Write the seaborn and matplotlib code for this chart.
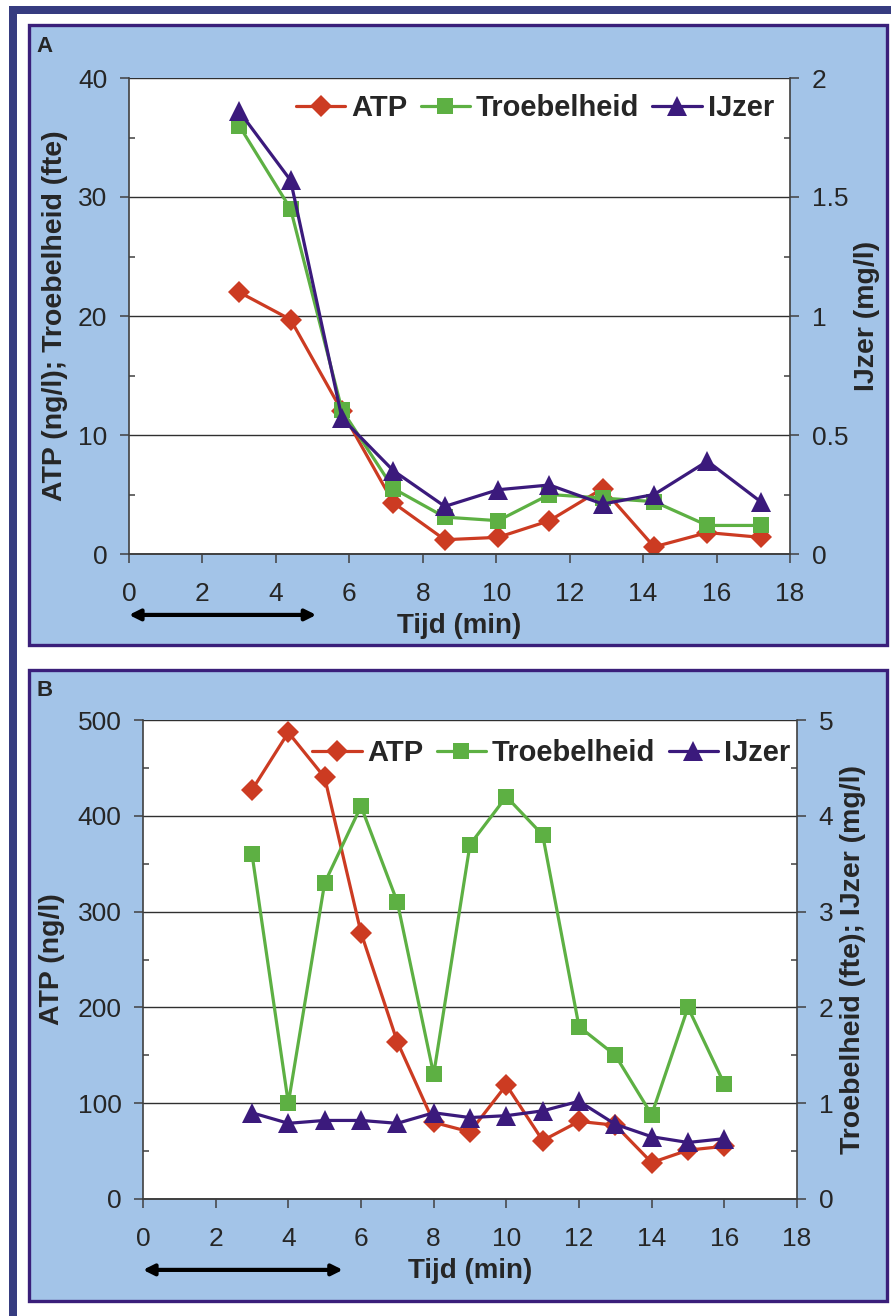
import matplotlib
matplotlib.use("Agg")
import matplotlib.pyplot as plt
from matplotlib.patches import Rectangle
from matplotlib.ticker import MultipleLocator, FormatStrFormatter
import seaborn as sns

# ---------------- data panel A ----------------
tijd_a = [3.0, 4.4, 5.8, 7.2, 8.6, 10.05, 11.45, 12.9, 14.3, 15.75, 17.2]
atp_a = [22.0, 19.7, 12.0, 4.3, 1.2, 1.4, 2.8, 5.5, 0.6, 1.8, 1.4]
troeb_a = [36.0, 29.0, 12.1, 5.5, 3.1, 2.8, 5.0, 4.7, 4.4, 2.4, 2.4]
ijzer_a = [1.86, 1.57, 0.57, 0.35, 0.20, 0.27, 0.29, 0.21, 0.25, 0.39, 0.22]

# ---------------- data panel B ----------------
tijd_b = [3, 4, 5, 6, 7, 8, 9, 10, 11, 12, 13, 14, 15, 16]
atp_b = [427, 487, 440, 278, 164, 80, 70, 119, 61, 81, 77, 38, 51, 55]
troeb_b = [3.6, 1.0, 3.3, 4.1, 3.1, 1.3, 3.7, 4.2, 3.8, 1.8, 1.5, 0.88, 2.0, 1.2]
ijzer_b = [0.90, 0.79, 0.82, 0.82, 0.79, 0.90, 0.85, 0.87, 0.92, 1.02, 0.78, 0.65, 0.59, 0.63]

series_names = ["ATP", "Troebelheid", "IJzer"]
x_ticks = list(range(0, 19, 2))

# colours (Excel-ish)
c_atp = "#cc3b22"
c_troeb = "#5db043"
c_ijzer = "#3b1a7c"
c_back = "#a3c4e8"
c_frame = "#3a1f7a"
c_navy = "#363c80"
c_axis = "#404040"

sns.set_style("ticks")
plt.rcParams['font.family'] = ['Liberation Sans', 'DejaVu Sans']

W, H = 891, 1316
fig = plt.figure(figsize=(W / 100, H / 100), dpi=100)


def px_box(x0, y0, x1, y1):
    # pixel box (top-left origin) -> figure fraction [l, b, w, h]
    return [x0 / W, 1 - y1 / H, (x1 - x0) / W, (y1 - y0) / H]


# outer navy frame + panel backgrounds
for box, kw in [
    (px_box(9, 6, 891, 14), dict(facecolor=c_navy, edgecolor="none")),
    (px_box(9, 6, 17, 1316), dict(facecolor=c_navy, edgecolor="none")),
    (px_box(29, 25, 887, 645), dict(facecolor=c_back, edgecolor=c_frame, linewidth=2.4)),
    (px_box(29, 670, 887, 1301), dict(facecolor=c_back, edgecolor=c_frame, linewidth=2.4)),
]:
    fig.add_artist(Rectangle(box[:2], box[2], box[3], transform=fig.transFigure, zorder=0, **kw))

line_kw = dict(linewidth=2.3, markeredgewidth=0, legend=False)
style_atp = dict(color=c_atp, marker="D", markersize=11)
style_troeb = dict(color=c_troeb, marker="s", markersize=11.5)
style_ijzer = dict(color=c_ijzer, marker="^", markersize=14)


def style_axes(ax, ax2, ylim_l, major_l, ylim_r, major_r):
    ax.set_xlim(0, 18)
    ax.set_xticks(x_ticks)
    ax.set_ylim(*ylim_l)
    ax.yaxis.set_major_locator(MultipleLocator(major_l))
    ax.yaxis.set_minor_locator(MultipleLocator(major_l / 2))
    ax2.set_ylim(*ylim_r)
    ax2.yaxis.set_major_locator(MultipleLocator(major_r))
    ax2.yaxis.set_minor_locator(MultipleLocator(major_r / 2))
    ax2.yaxis.set_major_formatter(FormatStrFormatter("%g"))
    ax.grid(axis="y", which="major", color="#303030", linewidth=1.0)
    ax.set_axisbelow(True)
    for a in (ax, ax2):
        a.spines["top"].set_visible(False)
        for s in ("left", "right", "bottom"):
            a.spines[s].set_color(c_axis)
            a.spines[s].set_linewidth(1.2)
        a.tick_params(axis="y", which="major", direction="out", length=6.5, width=1.1,
                      color=c_axis, pad=9, labelsize=19)
        a.tick_params(axis="y", which="minor", direction="in", length=4, width=1.1, color=c_axis)
    ax.tick_params(axis="x", which="major", direction="out", length=6.5, width=1.1,
                   color=c_axis, pad=14, labelsize=19)
    ax2.spines["left"].set_visible(False)
    ax.spines["right"].set_visible(False)
    ax.set_xlabel("Tijd (min)", fontsize=20, fontweight="bold", labelpad=5)


def add_legend(ax, lines, anchor):
    leg = ax.legend(lines, series_names, ncol=3, frameon=False, loc="center right",
                    bbox_to_anchor=anchor, borderpad=0, handlelength=1.7,
                    handletextpad=0.2, columnspacing=0.45,
                    prop=dict(size=21, weight="bold"))
    leg.set_zorder(10)


def add_arrow(ax, x_end, y_frac):
    ax.annotate("", xy=(0, y_frac), xytext=(x_end, y_frac), xycoords=ax.get_xaxis_transform(),
                textcoords=ax.get_xaxis_transform(), annotation_clip=False,
                arrowprops=dict(arrowstyle="<|-|>", color="black", lw=3, mutation_scale=16,
                                shrinkA=0, shrinkB=0))


# ---------------- Panel A ----------------
ax_a = fig.add_axes(px_box(129, 78, 790, 554))
ax_a2 = ax_a.twinx()

sns.lineplot(x=tijd_a, y=atp_a, ax=ax_a, **style_atp, **line_kw)
sns.lineplot(x=tijd_a, y=troeb_a, ax=ax_a, **style_troeb, **line_kw)
sns.lineplot(x=tijd_a, y=ijzer_a, ax=ax_a2, **style_ijzer, **line_kw)

style_axes(ax_a, ax_a2, (0, 40), 10, (0, 2), 0.5)
ax_a.set_ylabel("ATP (ng/l); Troebelheid (fte)", fontsize=20.5, fontweight="bold", labelpad=7)
ax_a2.set_ylabel("IJzer (mg/l)", fontsize=20.5, fontweight="bold", labelpad=4)
add_legend(ax_a2, [ax_a.lines[0], ax_a.lines[1], ax_a2.lines[0]], (0.998, 0.937))
add_arrow(ax_a, 5.1, -0.128)
fig.text(36 / W, 1 - 46 / H, "A", fontsize=16, fontweight="bold", va="center", ha="left")

# ---------------- Panel B ----------------
ax_b = fig.add_axes(px_box(143, 720, 797, 1199))
ax_b2 = ax_b.twinx()

sns.lineplot(x=tijd_b, y=atp_b, ax=ax_b, **style_atp, **line_kw)
sns.lineplot(x=tijd_b, y=troeb_b, ax=ax_b2, **style_troeb, **line_kw)
sns.lineplot(x=tijd_b, y=ijzer_b, ax=ax_b2, **style_ijzer, **line_kw)

style_axes(ax_b, ax_b2, (0, 500), 100, (0, 5), 1)
ax_b.set_ylabel("ATP (ng/l)", fontsize=20.5, fontweight="bold", labelpad=9)
ax_b2.set_ylabel("Troebelheid (fte); IJzer (mg/l)", fontsize=20.5, fontweight="bold", labelpad=5)
add_legend(ax_b2, [ax_b.lines[0], ax_b2.lines[0], ax_b2.lines[1]], (1.012, 0.931))
add_arrow(ax_b, 5.5, -0.148)
fig.text(36 / W, 1 - 690 / H, "B", fontsize=16, fontweight="bold", va="center", ha="left")

fig.savefig("out.png", dpi=100)
